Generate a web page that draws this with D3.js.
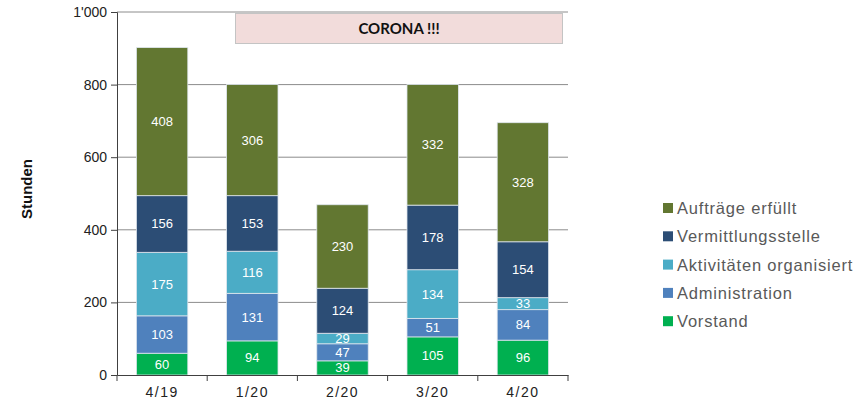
<!DOCTYPE html>
<html lang="de">
<head>
<meta charset="UTF-8">
<title>Stunden</title>
<script src="https://d3js.org/d3.v7.min.js"></script>
<style>
    body { margin: 0; background: #fff; }
    text { font-family: "Liberation Sans", Arial, sans-serif; }
</style>
</head>
<body>
<svg id="chart" width="867" height="403"></svg>
<script>
// data
const periods = ["4/19", "1/20", "2/20", "3/20", "4/20"];
const seriesNames = ["Vorstand", "Administration", "Aktivitäten organisiert", "Vermittlungsstelle", "Aufträge erfüllt"];
const vorstand = [60, 94, 39, 105, 96];
const administration = [103, 131, 47, 51, 84];
const aktivitaeten = [175, 116, 29, 134, 33];
const vermittlung = [156, 153, 124, 178, 154];
const auftraege = [408, 306, 230, 332, 328];
const yTicks = [0, 200, 400, 600, 800, 1000];
const colors = ["#00b050", "#4f81bd", "#4bacc6", "#2c4d75", "#627731"];

const seriesValues = [vorstand, administration, aktivitaeten, vermittlung, auftraege];
const rows = periods.map((p, i) => {
    const r = { period: p };
    seriesNames.forEach((s, j) => r[s] = seriesValues[j][i]);
    return r;
});

const svg = d3.select("#chart");
const plotLeft = 117, plotRight = 568, plotTop = 12, plotBottom = 375;

const x = d3.scaleBand().domain(periods).range([plotLeft, plotRight]).paddingInner(0.43).paddingOuter(0.215);
const y = d3.scaleLinear().domain([0, 1000]).range([plotBottom, plotTop]);

// gridlines
svg.append("g").selectAll("line")
    .data(yTicks.filter(d => d > 0))
    .join("line")
    .attr("x1", plotLeft).attr("x2", plotRight)
    .attr("y1", d => y(d)).attr("y2", d => y(d))
    .attr("stroke", "#8c8c8c").attr("stroke-width", 1);

// corona box
svg.append("rect")
    .attr("x", 235.5).attr("y", 13.5).attr("width", 327).attr("height", 30)
    .attr("fill", "#f2dcdb").attr("stroke", "#c4c4c4");
svg.append("text")
    .attr("x", 399).attr("y", 34)
    .attr("text-anchor", "middle")
    .style("font-family", "Lato, 'Open Sans', sans-serif")
    .style("font-weight", "bold").style("font-size", "15px")
    .attr("fill", "#111")
    .text("CORONA !!!");

// stacked bars
const stacked = d3.stack().keys(seriesNames)(rows);
const layer = svg.append("g").selectAll("g")
    .data(stacked)
    .join("g")
    .attr("fill", (d, i) => colors[i]);

layer.selectAll("rect")
    .data(d => d)
    .join("rect")
    .attr("x", d => x(d.data.period))
    .attr("width", x.bandwidth())
    .attr("y", d => y(d[1]))
    .attr("height", d => y(d[0]) - y(d[1]))
    .attr("stroke", "#dfe6ee").attr("stroke-width", 0.8);

layer.selectAll("text")
    .data(d => d)
    .join("text")
    .attr("x", d => x(d.data.period) + x.bandwidth() / 2)
    .attr("y", d => (y(d[0]) + y(d[1])) / 2 + 4.5)
    .attr("text-anchor", "middle")
    .attr("fill", "#fff")
    .style("font-size", "13px")
    .text(d => d[1] - d[0]);

// y axis
const yAxis = svg.append("g")
    .attr("transform", `translate(${plotLeft},0)`)
    .call(d3.axisLeft(y).tickValues(yTicks).tickSize(6).tickPadding(4)
        .tickFormat(d => d === 1000 ? "1'000" : d));
yAxis.select(".domain").attr("stroke", "#404040");
yAxis.selectAll(".tick line").attr("stroke", "#404040");
yAxis.selectAll("text").style("font-size", "14px").attr("fill", "#222");

// x axis
const xAxis = svg.append("g")
    .attr("transform", `translate(0,${plotBottom})`)
    .call(d3.axisBottom(x).tickSize(0).tickPadding(12));
xAxis.select(".domain").attr("stroke", "#404040");
xAxis.selectAll("text").style("font-size", "14px").style("letter-spacing", "1.5px").attr("fill", "#222");
xAxis.append("g").selectAll("line")
    .data(d3.range(periods.length + 1))
    .join("line")
    .attr("x1", i => plotLeft + i * (plotRight - plotLeft) / periods.length)
    .attr("x2", i => plotLeft + i * (plotRight - plotLeft) / periods.length)
    .attr("y1", 0).attr("y2", 6)
    .attr("stroke", "#404040");

// y label
svg.append("text")
    .attr("transform", `translate(32,189) rotate(-90)`)
    .attr("text-anchor", "middle")
    .style("font-weight", "bold").style("font-size", "15px")
    .attr("fill", "#111")
    .text("Stunden");

// legend
const legendOrder = seriesNames.map((s, i) => ({ name: s, color: colors[i] })).reverse();
const legend = svg.append("g").selectAll("g")
    .data(legendOrder)
    .join("g")
    .attr("transform", (d, i) => `translate(663,${208 + i * 28.3})`);
legend.append("rect")
    .attr("x", 0).attr("y", -5).attr("width", 10).attr("height", 10)
    .attr("fill", d => d.color);
legend.append("text")
    .attr("x", 14).attr("y", 6)
    .style("font-size", "16.5px")
    .style("letter-spacing", "0.8px")
    .attr("fill", "#595959")
    .text(d => d.name);
</script>
</body>
</html>
